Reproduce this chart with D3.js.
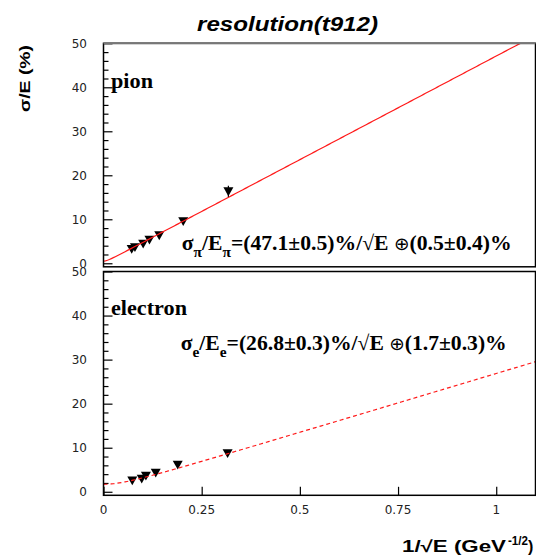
<!DOCTYPE html>
<html><head><meta charset="utf-8">
<script src="https://cdn.jsdelivr.net/npm/d3@7"></script>
<style>body{margin:0;background:#fff}svg{display:block}</style>
</head><body>
<svg id="c" width="536" height="555"></svg>
<script>
// ---- data ----
const pionX = [0.0718, 0.080, 0.101, 0.117, 0.142, 0.203, 0.318];
const pionY = [3.2, 3.6, 4.4, 5.3, 6.3, 9.5, 16.3];
const pionErr = [0.3, 0.3, 0.3, 0.3, 0.4, 0.5, 1.3];
const elecX = [0.0733, 0.0973, 0.108, 0.133, 0.189, 0.316];
const elecY = [2.5, 2.9, 3.6, 4.3, 6.1, 8.7];
const elecErr = [0.2, 0.2, 0.2, 0.3, 0.3, 0.4];
// fit parameters shown in the chart: sigma/E = a/sqrt(E) (+) b
const pionFit = [47.1, 0.5];
const elecFit = [26.8, 1.7];
const xTicks = [0, 0.25, 0.5, 0.75, 1];
const xTickLabels = ["0", "0.25", "0.5", "0.75", "1"];
const yTicks = [0, 10, 20, 30, 40, 50];
const yMinor = [2,4,6,8,12,14,16,18,22,24,26,28,32,34,36,38,42,44,46,48];

const svg = d3.select("#c");
const X = d3.scaleLinear().domain([0, 1.1]).range([103.5, 535.5]);
const Ytop = d3.scaleLinear().domain([-0.8, 50]).range([266.8, 43.3]);
const Ybot = d3.scaleLinear().domain([-0.8, 50]).range([495.3, 271.5]);

const sans = "'Liberation Sans', Arial, Helvetica, sans-serif";
const serif = "'Liberation Serif', 'Times New Roman', serif";
const tickFont = "'DejaVu Sans', sans-serif";

function panel(Y, id, xs, ys, es, fit, dashed, showX) {
  const g = svg.append("g");
  const x0 = X.range()[0], x1 = X.range()[1];
  const y0 = Y.range()[0], y1 = Y.range()[1];
  g.append("clipPath").attr("id", id).append("rect")
    .attr("x", x0).attr("y", y1).attr("width", x1 - x0).attr("height", y0 - y1);
  const ya = d3.axisRight(Y).tickValues(yTicks).tickSize(9).tickFormat("");
  g.append("g").attr("transform", `translate(${x0},0)`).call(ya)
    .call(s => s.select(".domain").remove())
    .call(s => s.selectAll("line").attr("stroke", "#000").attr("stroke-width", 1.2));
  const ym = d3.axisRight(Y).tickValues(yMinor).tickSize(5).tickFormat("");
  g.append("g").attr("transform", `translate(${x0},0)`).call(ym)
    .call(s => s.select(".domain").remove())
    .call(s => s.selectAll("line").attr("stroke", "#000").attr("stroke-width", 1.2));
  g.selectAll(".yl").data(yTicks).join("text")
    .attr("x", 87).attr("y", d => Y(d)).attr("dy", "0.36em")
    .attr("text-anchor", "end").attr("font-family", tickFont).attr("font-size", 12)
    .attr("fill", "#222").text(d => d);
  if (showX) {
    const xa = d3.axisTop(X).tickValues(xTicks).tickSize(8.5).tickFormat("");
    g.append("g").attr("transform", `translate(0,${y0})`).call(xa)
      .call(s => s.select(".domain").remove())
      .call(s => s.selectAll("line").attr("stroke", "#000").attr("stroke-width", 1.2));
    g.selectAll(".xl").data(xTicks).join("text")
      .attr("x", d => X(d)).attr("y", 514).attr("text-anchor", "middle")
      .attr("font-family", tickFont).attr("font-size", 12).attr("fill", "#222")
      .text((d, i) => xTickLabels[i]);
  }
  g.selectAll(".eb").data(xs).join("line")
    .attr("x1", d => X(d)).attr("x2", d => X(d))
    .attr("y1", (d, i) => Y(ys[i] - es[i])).attr("y2", (d, i) => Y(ys[i] + es[i]))
    .attr("stroke", "#000").attr("stroke-width", 1.2);
  g.selectAll(".mk").data(xs).join("path")
    .attr("d", "M-5,-4.2L5,-4.2L0,4.6Z")
    .attr("transform", (d, i) => `translate(${X(d)},${Y(ys[i])})`)
    .attr("fill", "#000");
  const fx = d3.range(0, 1.1001, 0.005);
  const line = d3.line().x(d => X(d)).y(d => Y(Math.hypot(fit[0] * d, fit[1])));
  g.append("path").datum(fx).attr("d", line).attr("clip-path", `url(#${id})`)
    .attr("fill", "none").attr("stroke", "#ff1a1a").attr("stroke-width", 1.2)
    .attr("stroke-dasharray", dashed ? "4,3" : null);
  g.append("rect").attr("x", x0).attr("y", y1).attr("width", x1 - x0).attr("height", y0 - y1)
    .attr("fill", "none").attr("stroke", "#000").attr("stroke-width", 1.5);
  return g;
}

panel(Ytop, "cpTop", pionX, pionY, pionErr, pionFit, false, false);
panel(Ybot, "cpBot", elecX, elecY, elecErr, elecFit, true, true);
svg.append("line").attr("x1", 103.5).attr("x2", 535.5).attr("y1", 43.3).attr("y2", 43.3)
  .attr("stroke", "#777").attr("stroke-width", 2);

svg.append("text").attr("x", 287.5).attr("y", 31).attr("text-anchor", "middle")
  .attr("font-family", sans).attr("font-weight", "bold").attr("font-style", "italic")
  .attr("font-size", 21).attr("textLength", 181).attr("lengthAdjust", "spacingAndGlyphs")
  .text("resolution(t912)");
svg.append("text").attr("transform", "translate(30,78.5) rotate(-90)").attr("text-anchor", "middle")
  .attr("font-family", sans).attr("font-weight", "bold").attr("font-size", 15)
  .attr("textLength", 67).attr("lengthAdjust", "spacingAndGlyphs").text("σ/E (%)");
svg.append("text").attr("x", 402).attr("y", 551.5).attr("font-family", sans).attr("font-weight", "bold")
  .attr("font-size", 16).attr("textLength", 104).attr("lengthAdjust", "spacingAndGlyphs").text("1/√E (GeV");
svg.append("text").attr("x", 508).attr("y", 545).attr("font-family", sans).attr("font-weight", "bold")
  .attr("font-size", 12).attr("textLength", 20).attr("lengthAdjust", "spacingAndGlyphs").text("-1/2");
svg.append("text").attr("x", 528).attr("y", 551.5).attr("font-family", sans).attr("font-weight", "bold")
  .attr("font-size", 16).text(")");

svg.append("text").attr("x", 111).attr("y", 88).attr("font-family", serif).attr("font-weight", "bold")
  .attr("font-size", 21).attr("textLength", 42).attr("lengthAdjust", "spacingAndGlyphs").text("pion");
svg.append("text").attr("x", 111).attr("y", 315).attr("font-family", serif).attr("font-weight", "bold")
  .attr("font-size", 21).attr("textLength", 76).attr("lengthAdjust", "spacingAndGlyphs").text("electron");

function formula(x, y, w, sub, a, b) {
  const t = svg.append("text").attr("x", x).attr("y", y).attr("font-family", serif)
    .attr("font-weight", "bold").attr("font-size", 21)
    .attr("textLength", w).attr("lengthAdjust", "spacingAndGlyphs");
  t.append("tspan").text("σ");
  t.append("tspan").attr("font-size", 15).attr("dy", 7).text(sub);
  t.append("tspan").attr("dy", -7).text("/E");
  t.append("tspan").attr("font-size", 15).attr("dy", 7).text(sub);
  t.append("tspan").attr("dy", -7).text(a + "%/√E ");
  t.append("tspan").attr("font-weight", "normal").attr("font-family", "'DejaVu Sans', sans-serif")
    .attr("font-size", 18).text("⊕");
  t.append("tspan").text(b + "%");
}
formula(181.7, 250, 330, "π", "=(" + pionFit[0] + "±0.5)", "(" + pionFit[1] + "±0.4)");
formula(180.7, 350, 326, "e", "=(" + elecFit[0] + "±0.3)", "(" + elecFit[1] + "±0.3)");
</script>
</body></html>
